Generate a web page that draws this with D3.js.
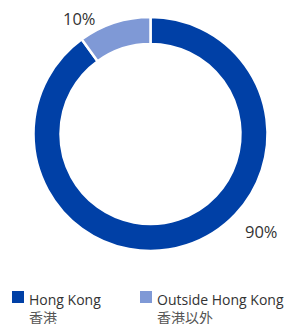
<!DOCTYPE html>
<html><head><meta charset="utf-8">
<script src="https://cdn.jsdelivr.net/npm/d3@7"></script>
<style>body{margin:0;background:#fff}svg{display:block}</style>
</head><body>
<script>
const categories = ["Hong Kong", "Outside Hong Kong"];
const categoriesZh = ["香港", "香港以外"];
const values = [90, 10];
const labels = ["90%", "10%"];
const colors = ["#0040a6", "#7f99d6"];

const W = 288, H = 324;
const svg = d3.select("body").append("svg").attr("width", W).attr("height", H);
const cx = 150.5, cy = 134, rOut = 117, rIn = 90;
const g = svg.append("g").attr("transform", `translate(${cx},${cy})`);
const pie = d3.pie().sort(null).value(d => d)(values);
const arc = d3.arc().innerRadius(rIn).outerRadius(rOut);
g.selectAll("path").data(pie).join("path")
  .attr("d", arc).attr("fill", (d, i) => colors[i])
  .attr("stroke", "#fff").attr("stroke-width", 2.5);

const font = "'Open Sans', 'Noto Sans', sans-serif";
const labelPos = [[245, 238], [63, 25]];
svg.selectAll("text.lbl").data(labels).join("text").attr("class", "lbl")
  .attr("x", (d, i) => labelPos[i][0]).attr("y", (d, i) => labelPos[i][1])
  .attr("font-family", font).attr("font-size", 16.5).attr("fill", "#333")
  .text(d => d);

const lx = [12, 140];
const leg = svg.selectAll("g.leg").data(categories).join("g").attr("class", "leg")
  .attr("transform", (d, i) => `translate(${lx[i]},291)`);
leg.append("rect").attr("width", 12).attr("height", 12).attr("fill", (d, i) => colors[i]);
leg.append("text").attr("x", 17).attr("y", 13.5).attr("font-family", font)
  .attr("font-size", 14).attr("fill", "#333").text(d => d);
leg.append("text").attr("x", 17).attr("y", 32)
  .attr("font-family", "'Noto Sans CJK TC', sans-serif")
  .attr("font-size", 14).attr("fill", "#555").text((d, i) => categoriesZh[i]);
</script>
</body></html>
